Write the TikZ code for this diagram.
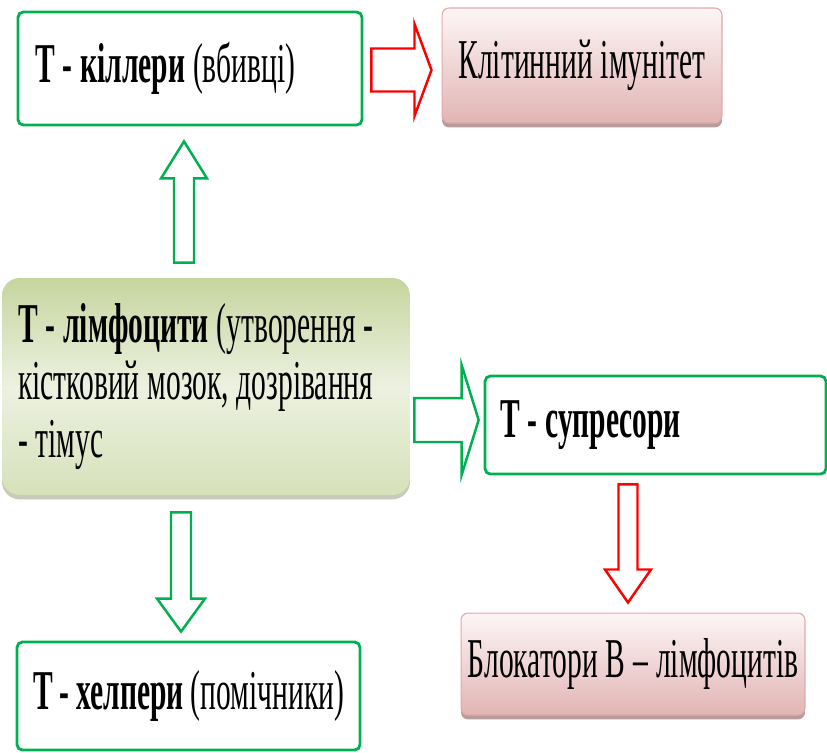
\documentclass[tikz,border=0pt]{standalone}
\usepackage{fontspec}
\setmainfont{Liberation Serif}[FakeStretch=0.525]
\usepackage{tikz}
\usetikzlibrary{calc,shadows}

\definecolor{boxgreen}{RGB}{0,176,80}
\definecolor{pinktop}{RGB}{253,246,246}
\definecolor{pinkbot}{RGB}{226,180,180}
\definecolor{pinkedge}{RGB}{222,170,170}
\definecolor{pinkshadow}{RGB}{185,155,155}
\definecolor{lymphtop}{RGB}{198,213,158}
\definecolor{lymphmid}{RGB}{236,241,224}
\definecolor{lymphbot}{RGB}{214,225,186}
\definecolor{lymphshadow}{RGB}{200,202,186}

% tight word spaces for the narrow box text
\newcommand{\tightspace}{\spaceskip=4.5pt plus 1pt minus 1pt\xspaceskip=4.5pt\relax}

% outlined block arrow: style, from, to, shaft half width, head half width, head length
\newcommand{\blockarrow}[6]{%
    \coordinate (ba-s) at (#2);
    \coordinate (ba-t) at (#3);
    \coordinate (ba-h) at ($(ba-t)!#6!(ba-s)$);
    \draw[#1] ($(ba-s)!#4!90:(ba-t)$) -- ($(ba-h)!#4!90:(ba-t)$)
        -- ($(ba-h)!#5!90:(ba-t)$) -- (ba-t)
        -- ($(ba-h)!#5!-90:(ba-t)$) -- ($(ba-h)!#4!-90:(ba-t)$)
        -- ($(ba-s)!#4!-90:(ba-t)$) -- cycle;
}

\begin{document}
\begin{tikzpicture}[
    x=0.02cm, y=-0.02cm,
    % Styles for the boxes
    boxtext/.style={font=\fontsize{32}{32.5}\selectfont, execute at begin node=\tightspace},
    greenbox/.style={rectangle, draw=boxgreen, line width=1.6pt, fill=white, rounded corners=3pt, align=left, boxtext},
    pinkbox/.style={rectangle, draw=pinkedge, line width=0.6pt, rounded corners=4pt, top color=pinktop, bottom color=pinkbot, align=center, boxtext,
        drop shadow={shadow xshift=0pt, shadow yshift=-2.5pt, fill=pinkshadow, opacity=1}},
    lymphbox/.style={rectangle, rounded corners=10pt, top color=lymphtop, bottom color=lymphbot, middle color=lymphmid, align=left, boxtext,
        drop shadow={shadow xshift=0pt, shadow yshift=-2.5pt, fill=lymphshadow, opacity=1}},
    % Styles for the arrows
    greenarrow/.style={draw=boxgreen, line width=1.4pt, fill=white},
    redarrow/.style={draw=red, line width=1.4pt, fill=white}
]
    \useasboundingbox (0,0) rectangle (827,752);

    % =========================================================================
    % 1. THE CENTRAL BOX
    % =========================================================================
    \node[lymphbox, minimum height=4.34cm, text width=7.52cm, inner xsep=0.32cm] (lymph) at (206,386.5)
        {\textbf{Т - лімфоцити} (утворення -\\ кістковий мозок, дозрівання\\ - тімус};

    % =========================================================================
    % 2. THE T-CELL BOXES
    % =========================================================================
    \node[greenbox, minimum height=2.26cm, text width=6.2cm, inner xsep=0.34cm] (killer) at (190,68.5)
        {\textbf{Т - кіллери} (вбивці)};
    \node[greenbox, minimum height=1.96cm, text width=6.22cm, inner xsep=0.3cm] (supp) at (655.5,425)
        {\textbf{Т - супресори}};
    \node[greenbox, minimum height=2.16cm, text width=6.22cm, inner xsep=0.32cm] (helper) at (188.5,696)
        {\textbf{Т - хелпери} (помічники)};

    % =========================================================================
    % 3. THE RESULT BOXES
    % =========================================================================
    \node[pinkbox, minimum width=5.6cm, minimum height=2.3cm] (immunity) at (582,65.5) {Клітинний імунітет};
    \node[pinkbox, minimum width=6.88cm, minimum height=2.04cm] (block) at (633,664) {Блокатори В – лімфоцитів};

    % =========================================================================
    % 4. THE BLOCK ARROWS
    % =========================================================================
    \blockarrow{greenarrow}{$(lymph.north)+(-22,-15)$}{$(killer.south)+(-6,15)$}{0.2cm}{0.46cm}{0.74cm}
    \blockarrow{greenarrow}{$(lymph.south)+(-25,17)$}{$(helper.north)+(-7.5,-9)$}{0.2cm}{0.48cm}{0.66cm}
    \blockarrow{greenarrow}{$(lymph.east)+(4,33.5)$}{$(supp.west)+(-5,-5)$}{0.44cm}{1.1cm}{0.34cm}
    \blockarrow{redarrow}{$(killer.east)+(8,1.5)$}{$(immunity.west)+(-10,4.5)$}{0.43cm}{0.92cm}{0.34cm}
    \blockarrow{redarrow}{$(supp.south)+(-27.5,9)$}{$(block.north)+(-5,-10)$}{0.19cm}{0.46cm}{0.66cm}

\end{tikzpicture}
\end{document}
